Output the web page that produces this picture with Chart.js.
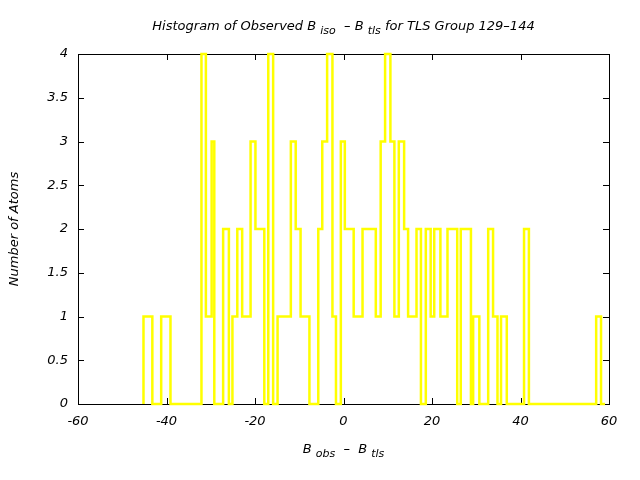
<!DOCTYPE html>
<html>
<head>
<meta charset="utf-8">
<script src="https://cdn.jsdelivr.net/npm/chart.js@4/dist/chart.umd.min.js"></script>
<style>
  html, body { margin: 0; padding: 0; background: #ffffff; }
  #wrap { width: 640px; height: 480px; }
</style>
</head>
<body>
<div id="wrap"><canvas id="c" width="640" height="480"></canvas></div>
<script>
// Bin edges (B_obs - B_tls) where the histogram level changes
const binEdges = [-45.2, -43.2, -41.2, -39.1, -32.1, -31.1, -29.8, -29.2, -27.2, -25.9,
  -25.1, -24.0, -22.9, -21.0, -19.9, -17.9, -17.0, -15.9, -14.9, -11.9,
  -10.8, -9.7, -7.7, -5.7, -4.8, -3.7, -2.5, -1.7, -0.6, 0.3,
  2.3, 4.3, 7.3, 8.4, 9.4, 10.6, 11.5, 12.5, 13.7, 14.6,
  16.5, 17.5, 18.6, 19.7, 20.5, 21.9, 23.5, 25.7, 26.5, 28.8,
  29.3, 30.7, 32.7, 33.8, 34.8, 35.6, 36.9, 40.8, 41.9, 57.1,
  58.2, 59.1];
// Number of atoms in each interval [binEdges[i], binEdges[i+1])
const atomCounts = [1, 0, 1, 0, 4, 1, 3, 0, 2, 0,
  1, 2, 1, 3, 2, 0, 4, 0, 1, 3,
  2, 1, 0, 2, 3, 4, 1, 0, 3, 2,
  1, 2, 1, 3, 4, 3, 1, 3, 2, 1,
  2, 0, 2, 1, 2, 1, 2, 0, 2, 0,
  1, 0, 2, 1, 0, 1, 0, 2, 0, 1,
  0];
const xTickValues = [-60, -40, -20, 0, 20, 40, 60];
const yTickValues = [0, 0.5, 1, 1.5, 2, 2.5, 3, 3.5, 4];

const titleParts = [["Histogram of Observed B ", false], ["iso", true], ["  \u2013 B ", false], ["tls", true], [" for TLS Group 129\u2013144", false]];
const xTitleParts = [["B ", false], ["obs", true], ["  \u2013  B ", false], ["tls", true]];
const yTitle = "Number of Atoms";

// Build stepped points from the arrays
const pts = [{x: binEdges[0], y: 0}];
for (let i = 0; i < atomCounts.length; i++) pts.push({x: binEdges[i], y: atomCounts[i]});
pts.push({x: binEdges[binEdges.length - 1], y: 0});

const FONT = '"DejaVu Sans", sans-serif';

function drawRich(ctx, parts, cx, cy, size, subSize) {
  let w = 0;
  for (const [t, sub] of parts) {
    ctx.font = 'italic ' + (sub ? subSize : size) + 'px ' + FONT;
    w += ctx.measureText(t).width;
  }
  let x = cx - w / 2;
  ctx.textBaseline = 'middle';
  ctx.textAlign = 'left';
  for (const [t, sub] of parts) {
    ctx.font = 'italic ' + (sub ? subSize : size) + 'px ' + FONT;
    ctx.fillText(t, x, sub ? cy + 4 : cy);
    x += ctx.measureText(t).width;
  }
}

const framePlugin = {
  id: 'frame',
  beforeDatasetsDraw(chart) {
    const {ctx, chartArea: a, scales} = chart;
    ctx.save();
    ctx.strokeStyle = '#000';
    ctx.lineWidth = 1;
    ctx.beginPath();
    for (const v of xTickValues) {
      const px = Math.round(scales.x.getPixelForValue(v)) + 0.5;
      ctx.moveTo(px, a.bottom); ctx.lineTo(px, a.bottom - 6);
      ctx.moveTo(px, a.top); ctx.lineTo(px, a.top + 6);
    }
    for (const v of yTickValues) {
      const py = Math.round(scales.y.getPixelForValue(v)) + 0.5;
      ctx.moveTo(a.left, py); ctx.lineTo(a.left + 6, py);
      ctx.moveTo(a.right, py); ctx.lineTo(a.right - 6, py);
    }
    ctx.stroke();
    ctx.strokeRect(Math.round(a.left) + 0.5, Math.round(a.top) + 0.5,
      Math.round(a.right - a.left), Math.round(a.bottom - a.top));
    ctx.restore();
  },
  afterDraw(chart) {
    const {ctx, chartArea: a} = chart;
    const cx = (a.left + a.right) / 2;
    ctx.save();
    ctx.fillStyle = '#000';
    drawRich(ctx, titleParts, cx, 27, 13, 11);
    drawRich(ctx, xTitleParts, cx, 450, 13, 11);
    ctx.translate(15, (a.top + a.bottom) / 2);
    ctx.rotate(-Math.PI / 2);
    ctx.font = 'italic 13px ' + FONT;
    ctx.textAlign = 'center';
    ctx.textBaseline = 'middle';
    ctx.fillText(yTitle, 0, 0);
    ctx.restore();
  }
};

new Chart(document.getElementById('c'), {
  type: 'line',
  data: {
    datasets: [{
      data: pts,
      stepped: true,
      borderColor: '#ffff00',
      borderWidth: 2.5,
      pointRadius: 0,
      fill: false,
      clip: false
    }]
  },
  options: {
    responsive: false,
    animation: false,
    events: [],
    layout: { padding: { left: 0, right: 31, top: 54, bottom: 0 } },
    plugins: { legend: { display: false }, tooltip: { enabled: false }, title: { display: false } },
    scales: {
      x: {
        type: 'linear', min: -60, max: 60,
        grid: { display: false, drawTicks: false },
        border: { display: false },
        afterBuildTicks: (s) => { s.ticks = xTickValues.map(v => ({value: v})); },
        afterFit: (s) => { s.height = 76; },
        ticks: { padding: 10, color: '#000', font: { family: FONT, size: 13, style: 'italic' }, maxRotation: 0,
          callback: (v) => String(v) }
      },
      y: {
        type: 'linear', min: 0, max: 4,
        grid: { display: false, drawTicks: false },
        border: { display: false },
        afterBuildTicks: (s) => { s.ticks = yTickValues.map(v => ({value: v})); },
        afterFit: (s) => { s.width = 78; },
        ticks: { padding: 10, color: '#000', font: { family: FONT, size: 13, style: 'italic' },
          callback: (v) => String(v) }
      }
    }
  },
  plugins: [framePlugin]
});
</script>
</body>
</html>
